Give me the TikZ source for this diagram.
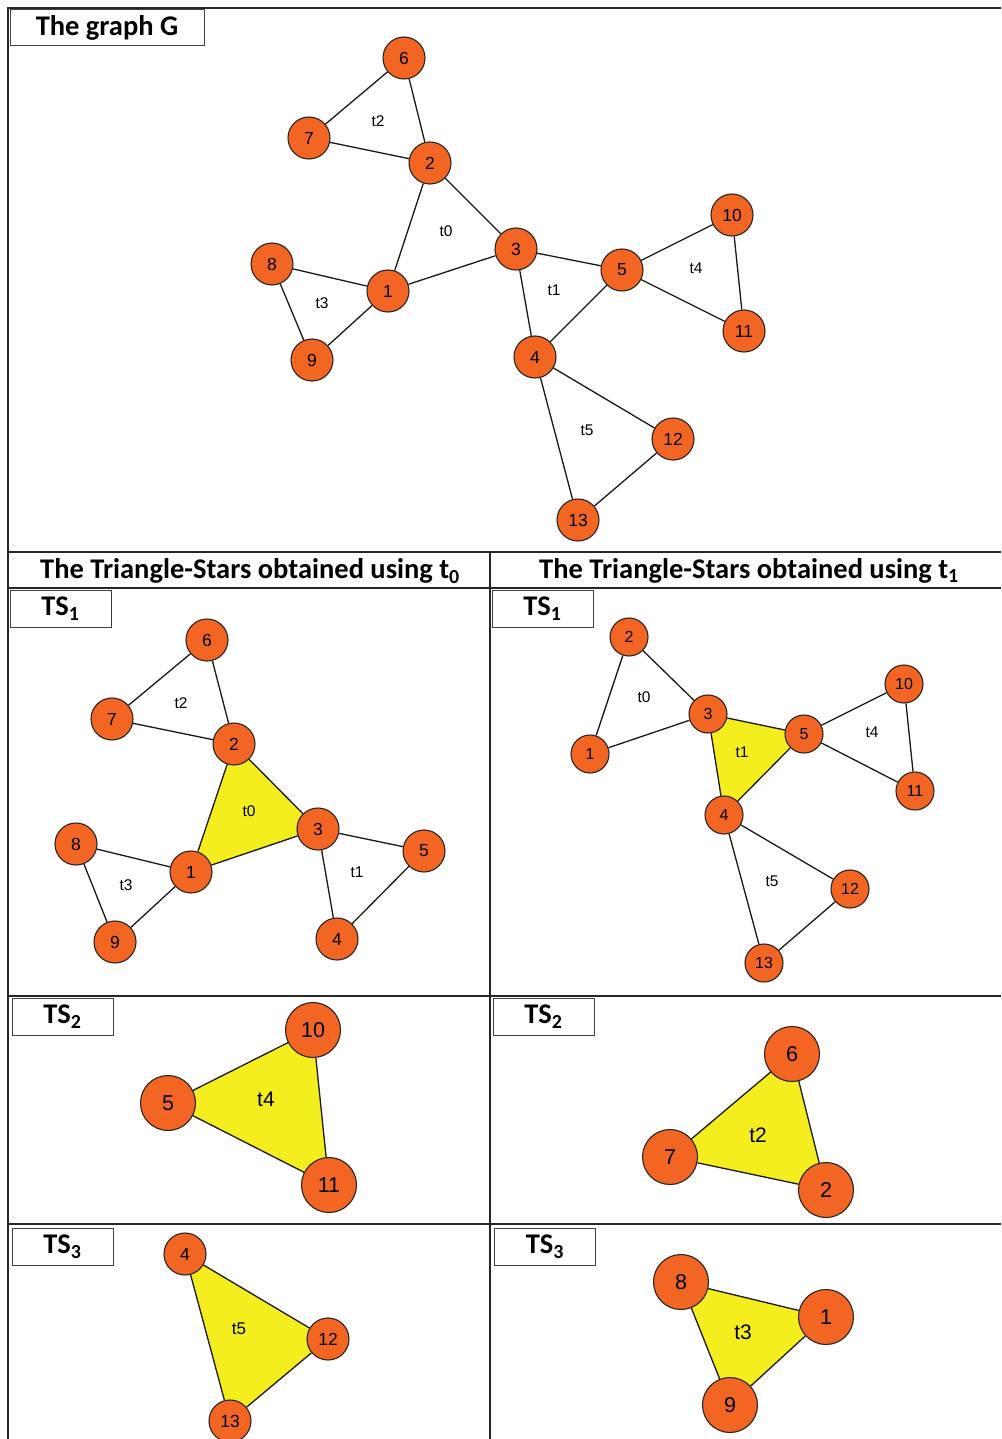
\documentclass[tikz,border=0pt]{standalone}
\usepackage{fontspec}
\setmainfont{Carlito}
\newfontfamily\arialx{Liberation Sans}
\usetikzlibrary{backgrounds}
\definecolor{orangex}{HTML}{F26522}
\definecolor{yellowx}{HTML}{F5EE1E}
\tikzset{
  frame/.style={line width=1.2pt,black!85},
  tag/.style={draw=black!75,line width=1pt,inner sep=0pt,minimum width=101pt,minimum height=37pt,font=\bfseries\fontsize{28.5}{28.5}\selectfont},
  head/.style={inner sep=0pt,font=\bfseries\fontsize{28.5}{28.5}\selectfont},
  vx/.style={circle,draw=black!85,line width=1.1pt,fill=orangex,inner sep=0pt,minimum size=42pt,font=\arialx\fontsize{17.5}{17.5}\selectfont},
  vs/.style={vx,minimum size=38pt,font=\arialx\fontsize{16}{16}\selectfont},
  vb/.style={vx,minimum size=55pt,font=\arialx\fontsize{21.5}{21.5}\selectfont},
  ed/.style={line width=1.3pt,black!90},
  lab/.style={inner sep=0pt,font=\arialx\fontsize{15.5}{15.5}\selectfont},
  labb/.style={inner sep=0pt,font=\arialx\fontsize{21}{21}\selectfont},
  tri/.style={fill=yellowx}
}
\begin{document}
\begin{tikzpicture}[x=1pt,y=-1pt]
\useasboundingbox (0,0) rectangle (1001,1439);
% table frame
\draw[frame] (1001,8) -- (8,8) -- (8,1439);
\draw[frame] (8,552) -- (1001,552);
\draw[frame] (8,588) -- (1001,588);
\draw[frame] (8,996) -- (1001,996);
\draw[frame] (8,1224) -- (1001,1224);
\draw[frame] (490,552) -- (490,1439);
% headings
\node[tag,minimum width=194pt,minimum height=36pt] (tagG) at (107,28) {The graph G};
\node[head] (headL) at (250,571) {The Triangle-Stars obtained using t\textsubscript{0}};
\node[head] (headR) at (749,571) {The Triangle-Stars obtained using t\textsubscript{1}};
\node[tag] (tagLa) at (60.5,608.5) {TS\textsubscript{1}};
\node[tag] (tagRa) at (542.5,608.5) {TS\textsubscript{1}};
\node[tag] (tagLb) at (62.5,1016.5) {TS\textsubscript{2}};
\node[tag] (tagRb) at (543.5,1016.5) {TS\textsubscript{2}};
\node[tag] (tagLc) at (62.5,1246.5) {TS\textsubscript{3}};
\node[tag] (tagRc) at (545,1246.5) {TS\textsubscript{3}};

% the graph G
\foreach \n/\x/\y in {6/404/58,7/309/138,2/430/163,3/516/249,1/388/291,8/272/264,9/312/360,
  5/622/270,10/732/215,11/744/331,4/535/357,12/673/439,13/578/520}
  \node[vx] (g\n) at (\x,\y) {\n};
\node[lab] (gt2) at (378,121) {t2};
\node[lab] (gt0) at (446,231) {t0};
\node[lab] (gt3) at (322,303) {t3};
\node[lab] (gt1) at (554,290) {t1};
\node[lab] (gt4) at (696,268) {t4};
\node[lab] (gt5) at (587,430) {t5};

% TS1 using t0
\foreach \n/\x/\y in {6/207/640,7/112/719,2/234/744,3/318/829,1/191/872,8/76/844,9/115/942,
  5/424/851,4/337/939}
  \node[vx] (p\n) at (\x,\y) {\n};
\node[lab] (pt2) at (181,703) {t2};
\node[lab] (pt0) at (249,811) {t0};
\node[lab] (pt3) at (126,885) {t3};
\node[lab] (pt1) at (357,872) {t1};

% TS1 using t1
\foreach \n/\x/\y in {2/629/637,1/590/754,3/708/714,5/804/734,10/904/684,11/915/791,
  4/724/815,12/850/889,13/764/963}
  \node[vs] (q\n) at (\x,\y) {\n};
\node[lab] (qt0) at (644,697) {t0};
\node[lab] (qt1) at (742,752) {t1};
\node[lab] (qt4) at (872,732) {t4};
\node[lab] (qt5) at (772,881) {t5};

% TS2 and TS3
\node[vb] (r5) at (168,1103) {5};
\node[vb] (r10) at (313,1030) {10};
\node[vb] (r11) at (329,1185) {11};
\node[labb] (rt4) at (266,1099) {t4};
\node[vb] (s6) at (792,1054) {6};
\node[vb] (s7) at (670,1157) {7};
\node[vb] (s2) at (826,1190) {2};
\node[labb] (st2) at (758,1135) {t2};
\node[vx] (u4) at (185,1254) {4};
\node[vx] (u12) at (328,1339) {12};
\node[vx] (u13) at (230,1421) {13};
\node[lab,font=\arialx\fontsize{17}{17}\selectfont] (ut5) at (239,1329) {t5};
\node[vb] (w8) at (681,1282) {8};
\node[vb] (w1) at (826,1317) {1};
\node[vb] (w9) at (730,1405) {9};
\node[labb] (wt3) at (743,1332) {t3};

\begin{scope}[on background layer]
\fill[tri] (p1.center) -- (p2.center) -- (p3.center) -- cycle;
\fill[tri] (q3.center) -- (q5.center) -- (q4.center) -- cycle;
\fill[tri] (r5.center) -- (r10.center) -- (r11.center) -- cycle;
\fill[tri] (s6.center) -- (s7.center) -- (s2.center) -- cycle;
\fill[tri] (u4.center) -- (u12.center) -- (u13.center) -- cycle;
\fill[tri] (w8.center) -- (w1.center) -- (w9.center) -- cycle;
\foreach \a/\b in {6/7,6/2,7/2,2/1,2/3,1/3,8/1,8/9,9/1,3/5,3/4,4/5,5/10,5/11,10/11,4/12,4/13,12/13}
  \draw[ed] (g\a) -- (g\b);
\foreach \a/\b in {6/7,6/2,7/2,2/1,2/3,1/3,8/1,8/9,9/1,3/5,3/4,4/5}
  \draw[ed] (p\a) -- (p\b);
\foreach \a/\b in {2/1,2/3,1/3,3/5,3/4,4/5,5/10,5/11,10/11,4/12,4/13,12/13}
  \draw[ed] (q\a) -- (q\b);
\draw[ed] (r5) -- (r10) -- (r11) -- (r5);
\draw[ed] (s6) -- (s7) -- (s2) -- (s6);
\draw[ed] (u4) -- (u12) -- (u13) -- (u4);
\draw[ed] (w8) -- (w1) -- (w9) -- (w8);
\end{scope}
\end{tikzpicture}
\end{document}
